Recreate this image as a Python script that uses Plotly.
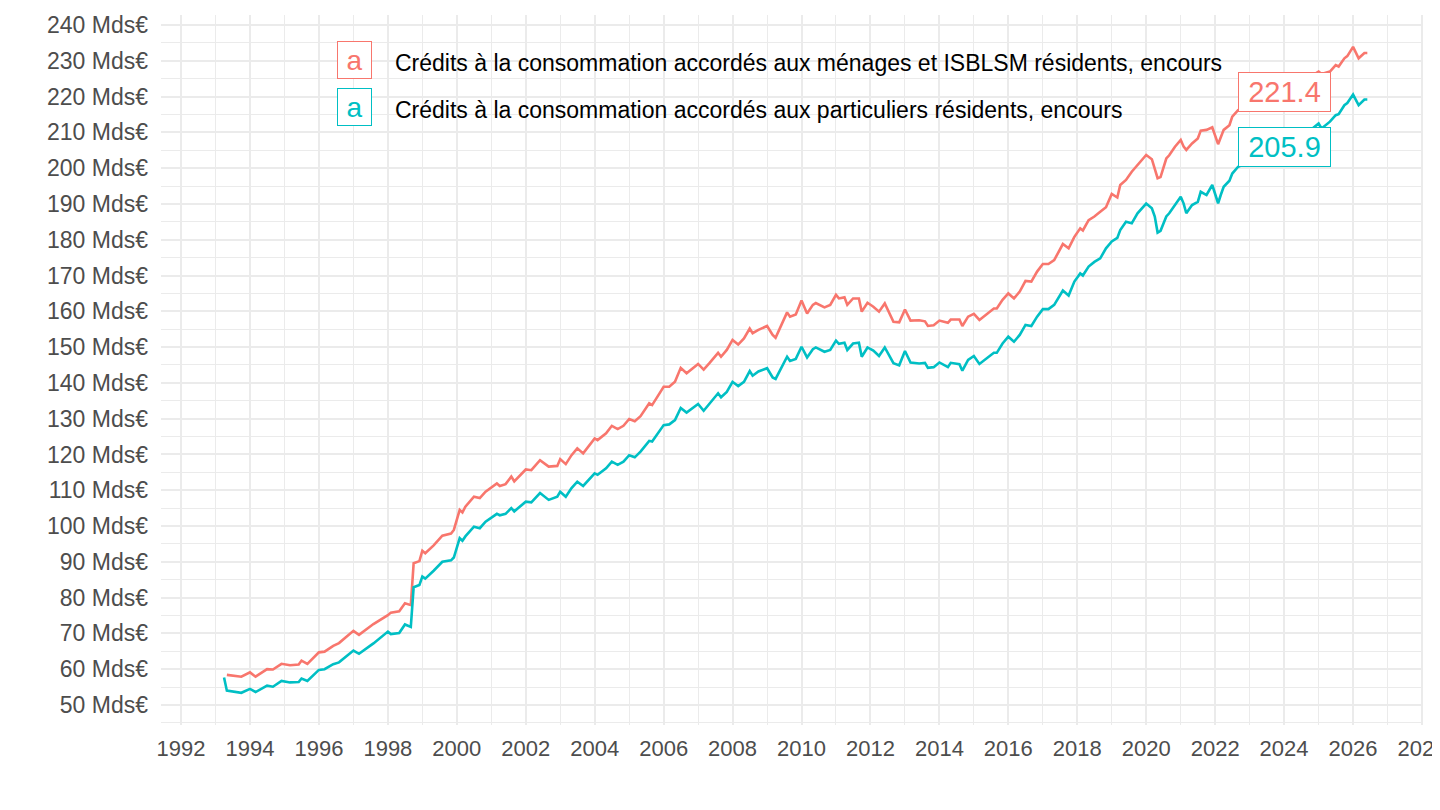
import plotly.graph_objects as go

# encours mensuels (Mds€)
dates = [
    "1993-04", "1993-05", "1993-10", "1994-01", "1994-03", "1994-07", "1994-09", "1994-12",
    "1995-03", "1995-06", "1995-07", "1995-09", "1996-01", "1996-03", "1996-06", "1996-08",
    "1997-01", "1997-03", "1997-08", "1998-01", "1998-02", "1998-05", "1998-07", "1998-09",
    "1998-10", "1998-12", "1999-01", "1999-02", "1999-05", "1999-08", "1999-11", "1999-12",
    "2000-02", "2000-03", "2000-04", "2000-07", "2000-09", "2000-11", "2001-03", "2001-04",
    "2001-06", "2001-08", "2001-09", "2002-01", "2002-03", "2002-06", "2002-09", "2002-12",
    "2003-01", "2003-03", "2003-05", "2003-07", "2003-09", "2004-01", "2004-02", "2004-05",
    "2004-07", "2004-09", "2004-11", "2005-01", "2005-03", "2005-05", "2005-08", "2005-09",
    "2006-01", "2006-03", "2006-05", "2006-07", "2006-09", "2007-01", "2007-03", "2007-05",
    "2007-08", "2007-09", "2007-11", "2008-01", "2008-03", "2008-05", "2008-07", "2008-08",
    "2008-10", "2009-01", "2009-03", "2009-04", "2009-08", "2009-09", "2009-11", "2010-01",
    "2010-03", "2010-05", "2010-06", "2010-09", "2010-11", "2011-01", "2011-02", "2011-04",
    "2011-05", "2011-07", "2011-09", "2011-10", "2011-12", "2012-02", "2012-04", "2012-06",
    "2012-09", "2012-11", "2013-01", "2013-03", "2013-06", "2013-08", "2013-09", "2013-11",
    "2014-01", "2014-04", "2014-05", "2014-08", "2014-09", "2014-11", "2015-01", "2015-03",
    "2015-05", "2015-08", "2015-09", "2015-11", "2016-01", "2016-03", "2016-05", "2016-07",
    "2016-09", "2016-11", "2017-01", "2017-03", "2017-05", "2017-08", "2017-10", "2017-12",
    "2018-02", "2018-03", "2018-05", "2018-07", "2018-09", "2018-11", "2019-01", "2019-03",
    "2019-04", "2019-06", "2019-08", "2019-10", "2020-01", "2020-03", "2020-04", "2020-05",
    "2020-06", "2020-08", "2020-09", "2020-11", "2021-01", "2021-02", "2021-03", "2021-05",
    "2021-07", "2021-08", "2021-10", "2021-12", "2022-02", "2022-03", "2022-04", "2022-06",
    "2022-07", "2022-09", "2023-03", "2023-09", "2024-01", "2024-06", "2024-10", "2025-01",
    "2025-02", "2025-05", "2025-07", "2025-08", "2025-10", "2025-11", "2026-01", "2026-02",
    "2026-03", "2026-05", "2026-06",
]

menages_isblsm = [
    None, 58.4, 57.9, 59.1, 57.9, 60.0, 59.9, 61.5,
    61.1, 61.3, 62.4, 61.5, 64.7, 64.9, 66.5, 67.3,
    70.7, 69.6, 72.6, 75.1, 75.8, 76.2, 78.4, 77.9,
    89.6, 90.2, 93.1, 92.4, 94.6, 97.3, 97.9, 98.9,
    104.5, 103.8, 105.4, 108.2, 107.8, 109.6, 111.9, 111.2,
    111.7, 113.8, 112.5, 115.8, 115.6, 118.4, 116.6, 116.8,
    118.7, 117.3, 119.8, 121.7, 120.3, 124.5, 124.0, 125.9,
    128.0, 127.1, 128.0, 129.9, 129.3, 130.7, 134.3, 133.8,
    138.9, 138.9, 140.3, 144.2, 142.7, 145.3, 143.7, 145.5,
    148.4, 147.3, 149.2, 152.0, 150.7, 152.4, 155.2, 153.9,
    154.8, 155.9, 153.4, 152.6, 159.7, 158.5, 159.1, 163.0,
    159.4, 161.8, 162.3, 161.1, 161.8, 164.6, 163.6, 163.9,
    161.8, 163.6, 163.6, 159.9, 162.4, 161.3, 159.9, 162.2,
    157.1, 156.9, 160.5, 157.4, 157.5, 157.2, 155.9, 156.1,
    157.4, 156.8, 157.7, 157.7, 155.9, 158.5, 159.3, 157.6,
    158.9, 160.8, 160.8, 163.2, 165.0, 163.6, 165.5, 168.5,
    168.3, 171.1, 173.2, 173.2, 174.3, 178.8, 177.6, 180.8,
    183.2, 182.6, 185.5, 186.5, 187.8, 189.1, 192.8, 191.8,
    195.3, 196.7, 199.0, 200.9, 203.7, 202.5, 199.9, 197.2,
    197.5, 202.7, 203.6, 206.0, 207.9, 206.0, 205.1, 206.9,
    208.3, 210.5, 210.7, 211.4, 206.7, 208.7, 210.7, 212.0,
    214.4, 216.2, 218.0, 220.0, 221.4, 223.5, 225.5, 227.0,
    226.3, 227.0, 228.8, 228.4, 230.7, 231.3, 233.9, 232.0,
    230.7, 232.2, 232.2,
]

particuliers = [
    57.7, 54.0, 53.4, 54.5, 53.6, 55.4, 55.1, 56.7,
    56.3, 56.4, 57.4, 56.7, 59.8, 60.0, 61.4, 61.9,
    65.2, 64.3, 67.2, 70.5, 69.8, 70.1, 72.5, 71.8,
    82.9, 83.5, 85.9, 85.3, 87.5, 90.0, 90.4, 91.2,
    96.6, 95.9, 97.1, 99.8, 99.4, 101.2, 103.4, 103.0,
    103.4, 105.0, 104.1, 106.8, 106.6, 109.2, 107.3, 108.2,
    109.6, 108.2, 110.6, 112.4, 111.2, 114.7, 114.3, 116.1,
    118.0, 117.1, 118.0, 119.8, 119.2, 120.8, 123.8, 123.6,
    128.2, 128.4, 129.6, 133.0, 131.7, 134.1, 132.2, 134.1,
    137.1, 136.0, 137.5, 140.3, 139.1, 140.3, 143.3, 142.0,
    143.2, 144.1, 141.5, 141.1, 147.3, 146.1, 146.7, 150.1,
    147.1, 149.4, 149.9, 148.7, 149.2, 151.8, 150.9, 151.2,
    149.2, 151.0, 151.2, 147.3, 149.9, 149.0, 147.5, 149.9,
    145.5, 144.9, 148.9, 145.7, 145.4, 145.6, 144.2, 144.4,
    145.7, 144.4, 145.6, 145.2, 143.4, 146.4, 147.5, 145.3,
    146.5, 148.4, 148.4, 151.0, 152.9, 151.5, 153.4, 156.2,
    155.9, 158.5, 160.6, 160.6, 161.8, 165.8, 164.4, 168.3,
    170.6, 170.0, 172.5, 173.8, 174.8, 177.6, 179.5, 180.5,
    182.7, 185.0, 184.6, 187.4, 190.1, 188.8, 186.5, 182.0,
    182.5, 186.5, 187.4, 189.7, 192.0, 190.1, 187.4, 189.7,
    190.6, 193.4, 192.5, 195.3, 190.2, 192.5, 194.8, 196.5,
    198.5, 200.4, 202.5, 204.3, 205.9, 208.5, 210.5, 212.5,
    211.1, 213.0, 214.8, 215.1, 217.6, 218.2, 220.6, 219.0,
    217.6, 219.2, 219.2,
]

noms = [
    "Crédits à la consommation accordés aux ménages et ISBLSM résidents, encours",
    "Crédits à la consommation accordés aux particuliers résidents, encours",
]
couleurs = ["#F8766D", "#00BFC4"]

# étiquettes de valeur
label_date = "2024-01-01"
label_vals = [221.4, 205.9]

font_family = "Liberation Sans, Arial, sans-serif"

fig = go.Figure()
for nom, serie, col in zip(noms, [menages_isblsm, particuliers], couleurs):
    fig.add_trace(go.Scatter(
        x=[d + "-01" for d in dates], y=serie,
        mode="lines", name=nom,
        line=dict(color=col, width=2.6),
        connectgaps=False, showlegend=False,
    ))

for v, col in zip(label_vals, couleurs):
    fig.add_annotation(
        x=label_date, y=v, text=f"{v:.1f}", showarrow=False,
        font=dict(size=29, color=col, family=font_family),
        bgcolor="white", bordercolor=col, borderwidth=1, borderpad=3,
        width=85, height=32,
    )

# légende façon ggplot (clé "a" encadrée)
leg_y = [0.9366, 0.8704]
for nom, col, yy in zip(noms, couleurs, leg_y):
    fig.add_annotation(
        xref="paper", yref="paper", x=0.1533, y=yy, text="a", showarrow=False,
        xanchor="center", yanchor="middle",
        font=dict(size=28, color=col, family=font_family),
        bgcolor="white", bordercolor=col, borderwidth=1, borderpad=2,
        width=29, height=32,
    )
    fig.add_annotation(
        xref="paper", yref="paper", x=0.1838, y=yy - 0.004, text=nom,
        showarrow=False, xanchor="left", yanchor="middle",
        font=dict(size=23, color="black", family=font_family),
    )

grid = "#EBEBEB"
fig.update_layout(
    width=1440, height=810,
    # la page ajoute 8 px de marge au corps : on compense ici
    margin=dict(l=153, r=25, t=7, b=93),
    plot_bgcolor="white", paper_bgcolor="white",
    font=dict(family=font_family, size=23, color="#4D4D4D"),
    xaxis=dict(
        type="date", range=["1991-06-03", "2028-01-12"],
        dtick="M24", tick0="1992-01-01", tickformat="%Y",
        showgrid=True, gridcolor=grid, gridwidth=2.2,
        minor=dict(dtick="M12", tick0="1992-01-01", showgrid=True, gridcolor=grid, gridwidth=1.1),
        zeroline=False, showline=False, ticks="", automargin=False,
        ticklabeloverflow="allow", ticklabelstandoff=8,
        tickfont=dict(size=22, color="#4D4D4D"),
    ),
    yaxis=dict(
        range=[44.4, 242.8], dtick=10, tick0=50, ticksuffix=" Mds€",
        showgrid=True, gridcolor=grid, gridwidth=2.2,
        minor=dict(dtick=5, tick0=45, showgrid=True, gridcolor=grid, gridwidth=1.1),
        zeroline=False, showline=False, ticks="", automargin=False,
        tickfont=dict(size=23, color="#4D4D4D"),
        ticklabelstandoff=12,
    ),
)

fig.write_html("out.html")
